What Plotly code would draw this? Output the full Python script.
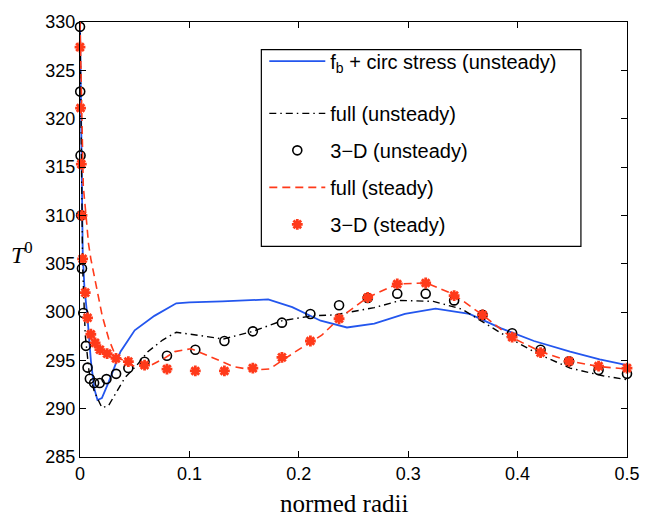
import plotly.graph_objects as go

# ---- data ----
blue_x = [0, 0.0008, 0.0016, 0.0025, 0.004, 0.007, 0.010, 0.013, 0.016, 0.020, 0.026,
          0.037, 0.050, 0.068, 0.088, 0.100, 0.130, 0.172, 0.194, 0.220, 0.244, 0.269,
          0.297, 0.325, 0.356, 0.385, 0.415, 0.448, 0.475, 0.500]
blue_y = [330, 322, 314, 306, 302.6, 299.2, 294.9, 292.1, 290.9, 291.1, 292.7,
          295.9, 298.1, 299.6, 300.9, 301.0, 301.1, 301.3, 300.5, 299.1, 298.4, 298.8,
          299.8, 300.35, 299.8, 298.3, 297.0, 295.9, 295.1, 294.5]

full_unsteady_x = [0, 0.0008, 0.0016, 0.0024, 0.0048, 0.0083, 0.013, 0.020, 0.026, 0.032,
                   0.041, 0.052, 0.062, 0.0755, 0.088, 0.1075, 0.131, 0.158, 0.185, 0.212,
                   0.233, 0.269, 0.293, 0.323, 0.349, 0.391, 0.418, 0.448, 0.478, 0.500]
full_unsteady_y = [330, 322, 313, 304.7, 297.6, 293.8, 291.8, 290.1, 290.3, 291.5,
                   293.2, 294.5, 295.9, 297.1, 297.9, 297.6, 297.2, 298.0, 299.1, 299.6,
                   299.7, 300.45, 301.2, 301.1, 300.3, 297.4, 295.7, 294.2, 293.4, 293.0]

full_steady_x = [0, 0.001, 0.002, 0.003, 0.0054, 0.0078, 0.0099, 0.0143, 0.0203, 0.0263,
                 0.0323, 0.0412, 0.0502, 0.065, 0.077, 0.0866, 0.1015, 0.1165, 0.1404,
                 0.158, 0.1732, 0.197, 0.221, 0.2375, 0.2628, 0.290, 0.3166, 0.342, 0.369,
                 0.394, 0.421, 0.448, 0.475, 0.500]
full_steady_y = [330, 323, 316, 313, 310.1, 307.05, 305.5, 303.0, 299.6, 297.2,
                 295.5, 294.86, 294.35, 294.5, 295.2, 295.9, 296.2, 295.5, 294.35,
                 294.0, 294.1, 295.9, 297.6, 299.4, 301.5, 302.9, 303.0, 301.8, 299.6,
                 297.4, 295.9, 294.9, 294.35, 294.1]

d3_unsteady_x = [0, 0.0002, 0.0005, 0.001, 0.0018, 0.003, 0.0054, 0.0069, 0.009, 0.0129,
                 0.018, 0.0242, 0.033, 0.0442, 0.059, 0.0795, 0.1054, 0.132, 0.158, 0.1846,
                 0.2106, 0.2368, 0.263, 0.290, 0.316, 0.342, 0.368, 0.395, 0.421, 0.447,
                 0.474, 0.500]
d3_unsteady_y = [329.5, 322.8, 316.2, 310.0, 304.5, 299.9, 296.5, 294.25, 293.1, 292.65,
                 292.65, 293.06, 293.6, 294.2, 294.86, 295.47, 296.1, 297.0, 298.0, 298.9,
                 299.8, 300.7, 301.45, 301.9, 301.9, 301.2, 299.7, 297.8, 296.1, 294.9,
                 294.0, 293.6]

d3_steady_x = [0, 0.0005, 0.0012, 0.0018, 0.0024, 0.0048, 0.0069, 0.0099, 0.0138, 0.0182,
               0.0248, 0.0329, 0.0442, 0.059, 0.0795, 0.1054, 0.132, 0.158, 0.1846, 0.2106,
               0.2368, 0.263, 0.290, 0.316, 0.342, 0.368, 0.395, 0.421, 0.447, 0.474, 0.500]
d3_steady_y = [327.4, 321.1, 315.3, 310.0, 305.5, 302.0, 299.4, 297.7, 296.8, 296.1,
               295.7, 295.2, 294.86, 294.5, 294.1, 293.9, 293.9, 294.2, 295.3, 297.0,
               299.3, 301.5, 302.9, 303.0, 301.7, 299.7, 297.4, 295.8, 294.9, 294.4, 294.2]

x_ticks = [0, 0.1, 0.2, 0.3, 0.4, 0.5]
x_ticktext = ["0", "0.1", "0.2", "0.3", "0.4", "0.5"]
y_ticks = [285, 290, 295, 300, 305, 310, 315, 320, 325, 330]

BLUE = "#2356ee"
RED = "#ff3a1a"
SANS = "Liberation Sans, Arial, sans-serif"
SERIF = "Liberation Serif, Times New Roman, serif"

L, R, T, B = 80, 14, 15, 59
W, H = 652, 516
pw, ph = W - L - R, H - T - B


def px_x(p):
    return (p - L) / pw


def px_y(p):
    return (H - B - p) / ph


fig = go.Figure()
fig.add_trace(go.Scatter(x=blue_x, y=blue_y, mode="lines", name="f<sub>b</sub> + circ stress (unsteady)",
                         line=dict(color=BLUE, width=1.8), legend="legend"))
fig.add_trace(go.Scatter(x=full_unsteady_x, y=full_unsteady_y, mode="lines", name="full (unsteady)",
                         line=dict(color="black", width=1.4, dash="7px,4px,1.5px,4px"),
                         legend="legend2", legendgroup="b"))
fig.add_trace(go.Scatter(x=d3_unsteady_x, y=d3_unsteady_y, mode="markers", name="3−D (unsteady)",
                         marker=dict(symbol="circle-open", size=9, color="black", line=dict(width=1.6, color="black")),
                         cliponaxis=False, legend="legend2", legendgroup="c"))
fig.add_trace(go.Scatter(x=full_steady_x, y=full_steady_y, mode="lines", name="full (steady)",
                         line=dict(color=RED, width=1.6, dash="8px,5px"),
                         legend="legend2", legendgroup="d"))
fig.add_trace(go.Scatter(x=d3_steady_x, y=d3_steady_y, mode="markers", name="3−D (steady)",
                         marker=dict(symbol="asterisk-open", size=9, color=RED, line=dict(width=2.8, color=RED)),
                         cliponaxis=False, legend="legend2", legendgroup="e"))

leg_common = dict(xanchor="left", yanchor="top", borderwidth=0, bgcolor="rgba(0,0,0,0)",
                  font=dict(family=SANS, size=20, color="black"), itemwidth=56, tracegroupgap=8)

fig.update_layout(
    width=W, height=H,
    margin=dict(l=L, r=R, t=T, b=B),
    paper_bgcolor="white", plot_bgcolor="white",
    font=dict(family=SANS, size=18, color="black"),
    showlegend=True,
    legend=dict(x=px_x(268), y=px_y(35), **leg_common),
    legend2=dict(x=px_x(268), y=px_y(88), **leg_common),
    shapes=[dict(type="rect", xref="paper", yref="paper", x0=px_x(265), x1=px_x(591),
                 y0=px_y(243), y1=px_y(43), line=dict(color="black", width=1.2),
                 fillcolor="white", layer="below")],
    xaxis=dict(range=[0, 0.5], tickvals=x_ticks, ticktext=x_ticktext,
               showline=True, linecolor="black", linewidth=1.2, mirror="ticks",
               ticks="inside", ticklen=6, tickcolor="black", showgrid=False, zeroline=False,
               tickfont=dict(family=SANS, size=18)),
    yaxis=dict(range=[285, 330], tickvals=y_ticks,
               showline=True, linecolor="black", linewidth=1.2, mirror="ticks",
               ticks="inside", ticklen=6, tickcolor="black", showgrid=False, zeroline=False,
               tickfont=dict(family=SANS, size=18)),
    annotations=[
        dict(text="normed radii", xref="paper", yref="paper", x=px_x(349.5),
             y=px_y(504), xanchor="center", yanchor="middle", showarrow=False,
             font=dict(family=SERIF, size=25, color="black")),
        dict(text="<i>T</i><sup>0</sup>", xref="paper", yref="paper", x=px_x(21),
             y=px_y(250), xanchor="center", yanchor="middle", showarrow=False,
             font=dict(family=SERIF, size=24, color="black")),
    ],
)

fig.write_html("out.html")
